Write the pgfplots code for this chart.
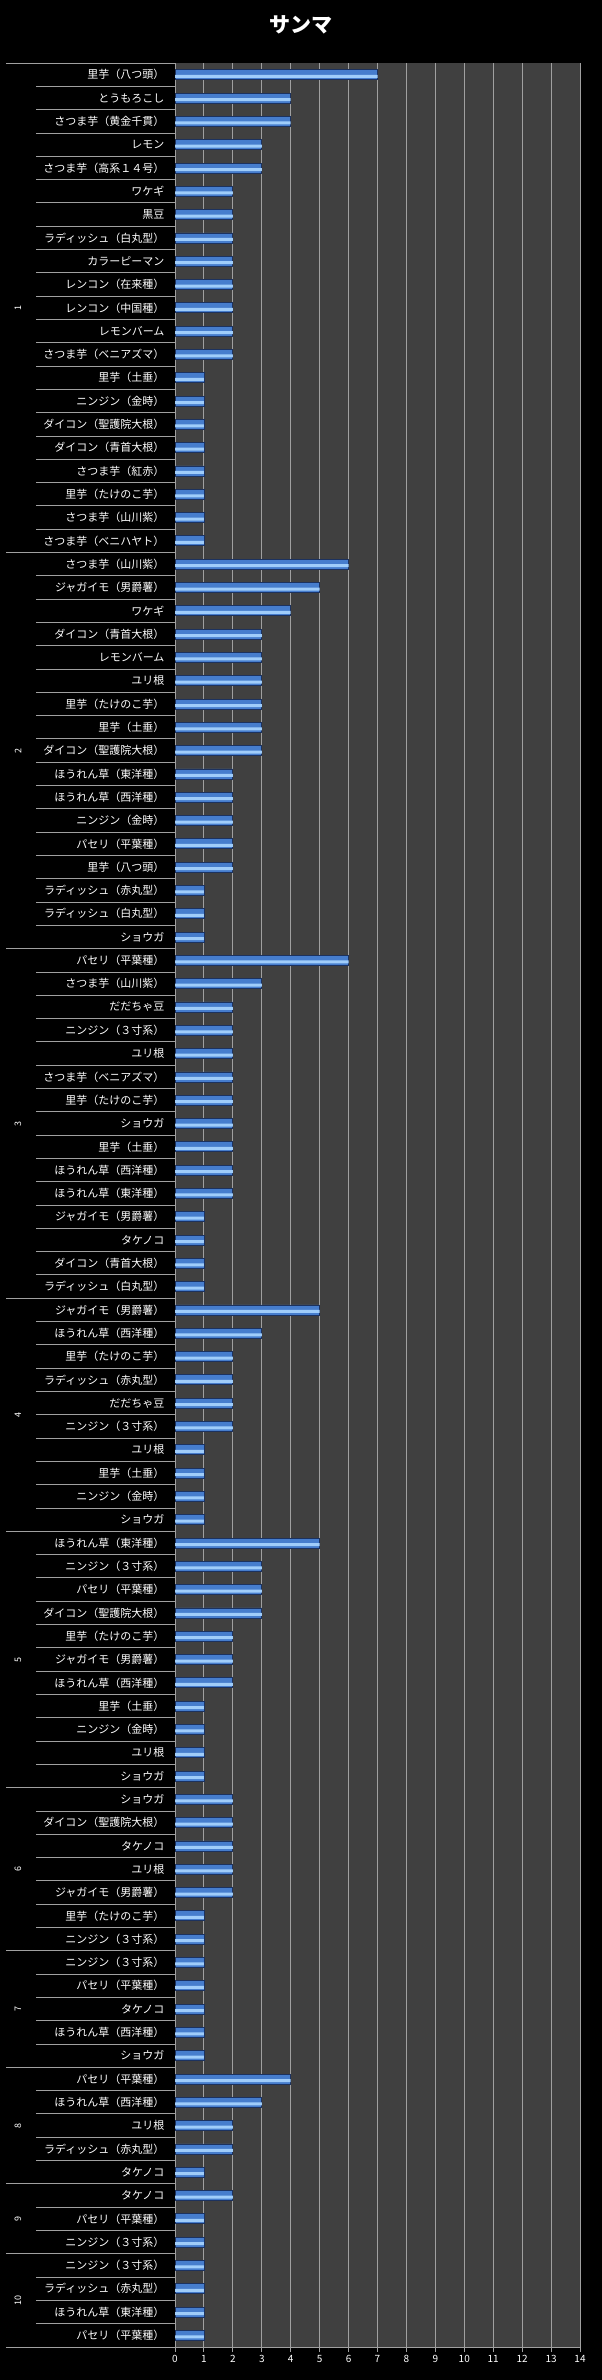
\documentclass[border=0pt]{standalone}
\usepackage{pgfplots}
\pgfplotsset{compat=1.18}
\usepackage{fontspec}
\setmainfont{Noto Sans CJK JP}

\definecolor{plotbg}{RGB}{64,64,64}
\definecolor{gridc}{RGB}{160,160,160}
\definecolor{sepc}{RGB}{160,160,160}
\definecolor{barhi}{RGB}{160,205,250}
\definecolor{barmid}{RGB}{70,125,205}
\definecolor{baredge}{RGB}{28,50,95}

\pgfplotstableread{
val idx
7 0
4 1
4 2
3 3
3 4
2 5
2 6
2 7
2 8
2 9
2 10
2 11
2 12
1 13
1 14
1 15
1 16
1 17
1 18
1 19
1 20
6 21
5 22
4 23
3 24
3 25
3 26
3 27
3 28
3 29
2 30
2 31
2 32
2 33
2 34
1 35
1 36
1 37
6 38
3 39
2 40
2 41
2 42
2 43
2 44
2 45
2 46
2 47
2 48
1 49
1 50
1 51
1 52
5 53
3 54
2 55
2 56
2 57
2 58
1 59
1 60
1 61
1 62
5 63
3 64
3 65
3 66
2 67
2 68
2 69
1 70
1 71
1 72
1 73
2 74
2 75
2 76
2 77
2 78
1 79
1 80
1 81
1 82
1 83
1 84
1 85
4 86
3 87
2 88
2 89
1 90
2 91
1 92
1 93
1 94
1 95
1 96
1 97
}\counts

\begin{document}
\begin{tikzpicture}
\useasboundingbox (0,0) rectangle (602pt,2380pt);
\fill[black] (0,0) rectangle (602pt,2380pt);
\node[text=white, font=\fontsize{21}{24}\selectfont\bfseries] at (301pt,2355pt) {サンマ};
\begin{axis}[
  at={(175pt,33pt)}, anchor=south west,
  scale only axis, width=405pt, height=2284pt,
  xmin=0, xmax=14, ymin=-0.5, ymax=97.5,
  y dir=reverse,
  axis background/.style={fill=plotbg},
  axis line style={draw=none},
  xtick={0,...,14},
  ytick={0,...,97},
  yticklabels={
    里芋（八つ頭）,とうもろこし,さつま芋（黄金千貫）,レモン,さつま芋（高系１４号）,
    ワケギ,黒豆,ラディッシュ（白丸型）,カラーピーマン,レンコン（在来種）,
    レンコン（中国種）,レモンバーム,さつま芋（ベニアズマ）,里芋（土垂）,ニンジン（金時）,
    ダイコン（聖護院大根）,ダイコン（青首大根）,さつま芋（紅赤）,里芋（たけのこ芋）,さつま芋（山川紫）,
    さつま芋（ベニハヤト）,
    さつま芋（山川紫）,ジャガイモ（男爵薯）,ワケギ,ダイコン（青首大根）,レモンバーム,
    ユリ根,里芋（たけのこ芋）,里芋（土垂）,ダイコン（聖護院大根）,ほうれん草（東洋種）,
    ほうれん草（西洋種）,ニンジン（金時）,パセリ（平葉種）,里芋（八つ頭）,ラディッシュ（赤丸型）,
    ラディッシュ（白丸型）,ショウガ,
    パセリ（平葉種）,さつま芋（山川紫）,だだちゃ豆,ニンジン（３寸系）,ユリ根,
    さつま芋（ベニアズマ）,里芋（たけのこ芋）,ショウガ,里芋（土垂）,ほうれん草（西洋種）,
    ほうれん草（東洋種）,ジャガイモ（男爵薯）,タケノコ,ダイコン（青首大根）,ラディッシュ（白丸型）,
    ジャガイモ（男爵薯）,ほうれん草（西洋種）,里芋（たけのこ芋）,ラディッシュ（赤丸型）,だだちゃ豆,
    ニンジン（３寸系）,ユリ根,里芋（土垂）,ニンジン（金時）,ショウガ,
    ほうれん草（東洋種）,ニンジン（３寸系）,パセリ（平葉種）,ダイコン（聖護院大根）,里芋（たけのこ芋）,
    ジャガイモ（男爵薯）,ほうれん草（西洋種）,里芋（土垂）,ニンジン（金時）,ユリ根,
    ショウガ,
    ショウガ,ダイコン（聖護院大根）,タケノコ,ユリ根,ジャガイモ（男爵薯）,
    里芋（たけのこ芋）,ニンジン（３寸系）,
    ニンジン（３寸系）,パセリ（平葉種）,タケノコ,ほうれん草（西洋種）,ショウガ,
    パセリ（平葉種）,ほうれん草（西洋種）,ユリ根,ラディッシュ（赤丸型）,タケノコ,
    タケノコ,パセリ（平葉種）,ニンジン（３寸系）,
    ニンジン（３寸系）,ラディッシュ（赤丸型）,ほうれん草（東洋種）,パセリ（平葉種）
  },
  xmajorgrids, grid style={gridc, line width=1pt},
  tick align=outside, xtick pos=bottom, ytick pos=left,
  major tick length=5pt,
  xtick style={gridc, line width=1pt},
  ytick style={draw=none},
  tick label style={text=white},
  yticklabel style={font=\fontsize{11}{13}\selectfont, xshift=-2pt},
  xticklabel style={font=\fontsize{10}{12}\selectfont},
  /pgf/number format/assume math mode=true,
  clip=false,
]
% bar body
\addplot[xbar, bar width=10pt, bar shift=0pt, draw=baredge, line width=0.8pt, fill=barmid]
  table[x=val, y=idx] {\counts};
% light stripe near the top of each bar
\addplot[xbar, bar width=3pt, bar shift=-1.5pt, draw=none, fill=barhi]
  table[x=val, y=idx] {\counts};
% row separators in the label area
\pgfplotsinvokeforeach{0,...,96}{
  \draw[sepc, line width=1pt] (axis cs:0,#1+0.5) -- ++(-139pt,0pt);
}
% group separators
\pgfplotsinvokeforeach{-0.5,20.5,37.5,52.5,62.5,73.5,80.5,85.5,90.5,93.5}{
  \draw[sepc, line width=1pt] (axis cs:0,#1) -- ++(-169pt,0pt);
}
\draw[sepc, line width=1pt] ([xshift=-169pt]axis cs:0,97.5) -- (axis cs:14,97.5);
% group names
\begin{scope}[every node/.style={rotate=90, text=white, font=\fontsize{9}{10}\selectfont}]
\node at ([xshift=-157pt]axis cs:0,10) {1};
\node at ([xshift=-157pt]axis cs:0,29) {2};
\node at ([xshift=-157pt]axis cs:0,45) {3};
\node at ([xshift=-157pt]axis cs:0,57.5) {4};
\node at ([xshift=-157pt]axis cs:0,68) {5};
\node at ([xshift=-157pt]axis cs:0,77) {6};
\node at ([xshift=-157pt]axis cs:0,83) {7};
\node at ([xshift=-157pt]axis cs:0,88) {8};
\node at ([xshift=-157pt]axis cs:0,92) {9};
\node at ([xshift=-157pt]axis cs:0,95.5) {10};
\end{scope}
\end{axis}
\end{tikzpicture}
\end{document}
